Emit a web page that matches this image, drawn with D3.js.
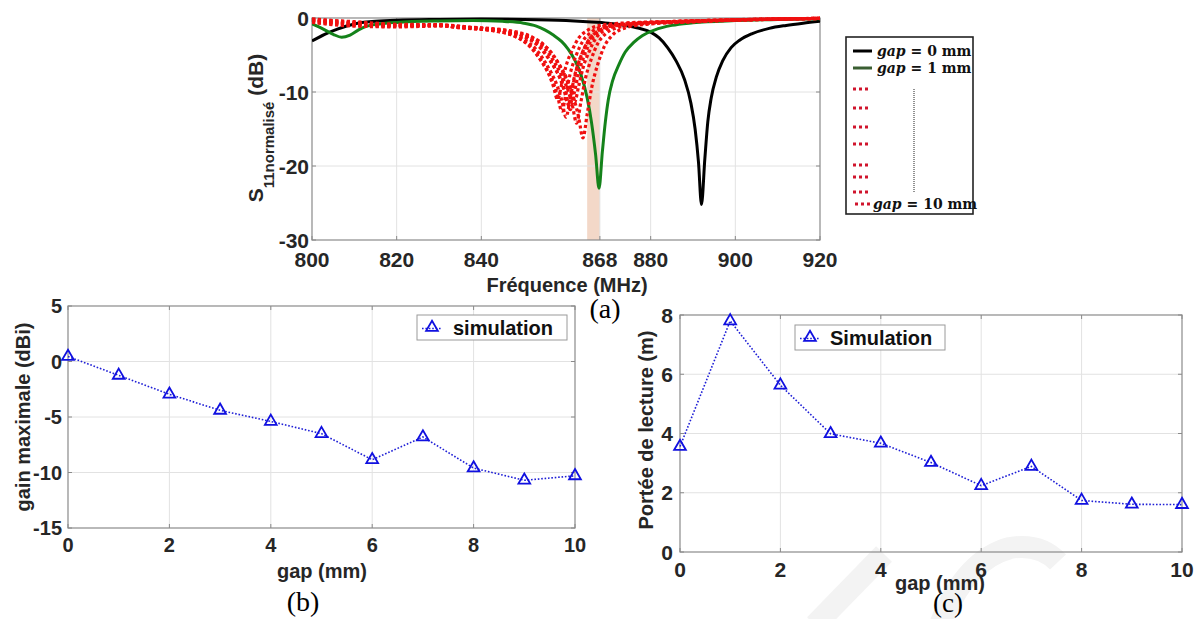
<!DOCTYPE html>
<html><head><meta charset="utf-8">
<script src="https://cdn.jsdelivr.net/npm/d3@7"></script>
<style>
body{margin:0;background:#fff;}
svg{display:block;}
text{font-family:Arial,"Liberation Sans",sans-serif;}
</style></head><body>
<svg id="fig" width="1197" height="619"></svg>
<script>
// ---------- (a) S11 data ----------
const freqTicks = [800, 820, 840, 868, 880, 900, 920];
const s11Ticks = [0, -10, -20, -30];
const bandMHz = [865, 868];
const s11Gap0 = [[800,-3.1],[803,-2.2],[806,-1.5],[810,-0.8],[815,-0.45],[820,-0.3],[830,-0.2],[840,-0.15],[850,-0.2],[860,-0.35],[865,-0.5],[870,-0.7],[874,-1.0],[877,-1.35],[880,-1.9],[882,-2.7],[884,-4.0],[886,-5.8],[888,-8.3],[889.5,-11.5],[890.5,-15],[891.3,-19.5],[892,-25.2],[892.8,-19],[893.5,-14],[894.3,-10.8],[895.5,-8],[897,-5.8],[899,-4.0],[901,-3.0],[904,-2.1],[908,-1.4],[912,-1.0],[916,-0.7],[920,-0.45]];
const s11Gap1 = [[800,-0.8],[802,-1.3],[805,-2.2],[807,-2.6],[809,-2.3],[811,-1.6],[813,-1.1],[816,-0.8],[820,-0.6],[830,-0.4],[838,-0.35],[845,-0.45],[850,-0.7],[853,-1.1],[855,-1.6],[857,-2.3],[859,-3.2],[860.5,-4.2],[862,-5.6],[863.5,-7.6],[865,-10.8],[866,-14],[867,-18.5],[867.8,-23],[868.6,-18],[869.3,-14],[870,-11],[871,-8.5],[872.5,-6.3],[874,-4.6],[876,-3.3],[878,-2.4],[881,-1.6],[885,-1.0],[890,-0.65],[900,-0.35],[910,-0.2],[920,-0.1]];
const s11Gap3 = [[800,-0.3],[810,-0.8],[820,-1.0],[830,-0.95],[833,-1.2],[843,-1.7],[848,-2.5],[851,-3.6],[853,-4.9],[854.5,-6.15],[856,-7.7],[857,-9.2],[858,-11.0],[859,-8.9],[860,-6.5],[861.5,-4.3],[863,-2.7],[865,-1.7],[868,-1.0],[873,-0.7],[883,-0.5],[900,-0.25],[910,-0.15],[920,-0.05]];
const s11Gap4 = [[800,-0.2],[810,-0.7],[820,-0.95],[830,-0.95],[834,-1.25],[844,-1.84],[849,-2.77],[852,-4.06],[854,-5.58],[855.5,-6.98],[857,-8.74],[858,-10.5],[859,-12.6],[860,-10.2],[861,-7.5],[862.5,-4.9],[864,-3.1],[866,-1.9],[869,-1.1],[874,-0.8],[884,-0.5],[900,-0.25],[910,-0.12],[920,-0.05]];
const s11Gap5 = [[800,-0.4],[810,-0.9],[820,-1.1],[830,-1.0],[835,-1.28],[845,-1.9],[850,-2.9],[853,-4.28],[855,-5.9],[856.5,-7.4],[858,-9.28],[859,-11.15],[860,-13.4],[861,-10.8],[862,-7.9],[863.5,-5.2],[865,-3.3],[867,-2.0],[870,-1.2],[875,-0.8],[885,-0.5],[900,-0.28],[910,-0.15],[920,-0.06]];
const s11Gap6 = [[800,-0.1],[810,-0.6],[820,-0.9],[830,-0.95],[835.5,-1.22],[845.5,-1.76],[850.5,-2.61],[853.5,-3.79],[855.5,-5.18],[857,-6.46],[858.5,-8.07],[859.5,-9.67],[860.5,-11.6],[861.5,-9.4],[862.5,-6.9],[864,-4.5],[865.5,-2.9],[867.5,-1.75],[870.5,-1.1],[875.5,-0.75],[885.5,-0.5],[900,-0.22],[910,-0.12],[920,-0.04]];
const s11Gap7 = [[800,-0.5],[810,-1.0],[820,-1.1],[830,-1.0],[836,-1.25],[846,-1.82],[851,-2.74],[854,-4.0],[856,-5.5],[857.5,-6.88],[859,-8.6],[860,-10.33],[861,-12.4],[862,-10.0],[863,-7.4],[864.5,-4.8],[866,-3.0],[868,-1.85],[871,-1.1],[876,-0.75],[886,-0.5],[900,-0.3],[910,-0.16],[920,-0.07]];
const s11Gap8 = [[800,-0.2],[810,-0.5],[820,-0.85],[830,-0.9],[837,-1.22],[847,-1.74],[852,-2.58],[855,-3.74],[857,-5.1],[858.5,-6.36],[860,-7.94],[861,-9.51],[862,-11.4],[863,-9.2],[864,-6.8],[865.5,-4.5],[867,-2.8],[869,-1.7],[872,-1.05],[877,-0.75],[887,-0.5],[900,-0.24],[910,-0.13],[920,-0.05]];
const s11Gap9 = [[800,-0.3],[810,-0.75],[820,-1.0],[830,-1.0],[837.5,-1.3],[847.5,-1.96],[852.5,-3.03],[855.5,-4.49],[857.5,-6.22],[859,-7.82],[860.5,-9.81],[861.5,-11.8],[862.5,-14.2],[863.5,-11.4],[864.5,-8.4],[866,-5.5],[867.5,-3.45],[869.5,-2.05],[872.5,-1.25],[877.5,-0.8],[887.5,-0.55],[900,-0.26],[910,-0.14],[920,-0.05]];
const s11Gap10 = [[800,-0.6],[810,-1.1],[820,-1.2],[830,-1.1],[839,-1.36],[849,-2.12],[854,-3.35],[857,-5.03],[859,-7.02],[860.5,-8.86],[862,-11.15],[863,-13.45],[864,-16.2],[865,-13.0],[866,-9.6],[867.5,-6.25],[869,-3.9],[871,-2.3],[874,-1.35],[879,-0.85],[889,-0.55],[900,-0.3],[910,-0.17],[920,-0.07]];
const redCurves = [s11Gap3, s11Gap4, s11Gap5, s11Gap6, s11Gap7, s11Gap8, s11Gap9, s11Gap10];

// ---------- (b), (c) data ----------
const gapMm = [0,1,2,3,4,5,6,7,8,9,10];
const gainMax = [0.45,-1.25,-2.95,-4.4,-5.4,-6.5,-8.85,-6.8,-9.6,-10.7,-10.3];
const readRange = [3.56,7.8,5.63,3.99,3.67,3.02,2.24,2.89,1.74,1.61,1.6];
const gapTicks = [0,2,4,6,8,10];
const gainTicks = [5,0,-5,-10,-15];
const rangeTicks = [0,2,4,6,8];

const svg = d3.select("#fig");
const GRID = "#e2e2e2", FRAME = "#8a8a8a", TXT = "#262626";

// faint watermark strokes (background)
const wm = svg.append("g").attr("fill","none").attr("stroke","#f3f3f3").attr("stroke-width",22);
wm.append("path").attr("d","M815,625 L884,554");
wm.append("path").attr("d","M940,625 Q965,560 1010,548 Q1040,543 1058,562");

function frame(g, x, y, xt, yt, fs, opts){
  const [x0,x1] = x.range(), [y0,y1] = y.range();
  g.append("g").selectAll("line").data(xt.filter(v=>v!==x.domain()[0]&&v!==x.domain()[1])).join("line")
    .attr("x1",d=>x(d)).attr("x2",d=>x(d)).attr("y1",y1).attr("y2",y0).attr("stroke",GRID);
  g.append("g").selectAll("line").data(yt.filter(v=>v!==y.domain()[0]&&v!==y.domain()[1])).join("line")
    .attr("y1",d=>y(d)).attr("y2",d=>y(d)).attr("x1",x0).attr("x2",x1).attr("stroke",GRID);
  const tk = g.append("g").attr("stroke",FRAME);
  xt.forEach(v=>{tk.append("line").attr("x1",x(v)).attr("x2",x(v)).attr("y1",y0).attr("y2",y0-4);
                 tk.append("line").attr("x1",x(v)).attr("x2",x(v)).attr("y1",y1).attr("y2",y1+4);});
  yt.forEach(v=>{tk.append("line").attr("y1",y(v)).attr("y2",y(v)).attr("x1",x0).attr("x2",x0+4);
                 tk.append("line").attr("y1",y(v)).attr("y2",y(v)).attr("x1",x1).attr("x2",x1-4);});
  g.append("rect").attr("x",x0).attr("y",y1).attr("width",x1-x0).attr("height",y0-y1)
    .attr("fill","none").attr("stroke",FRAME).attr("stroke-width",1.2);
  g.append("g").selectAll("text").data(xt).join("text")
    .attr("x",d=>x(d)).attr("y",y0+opts.xdy).attr("text-anchor","middle")
    .attr("font-size",fs).attr("font-weight","bold").attr("fill",TXT).text(d=>d);
  g.append("g").selectAll("text").data(yt).join("text")
    .attr("x",x0-opts.ydx).attr("y",d=>y(d)).attr("dy","0.36em").attr("text-anchor","end")
    .attr("font-size",fs).attr("font-weight","bold").attr("fill",TXT).text(d=>d);
}

// ================= (a) =================
const xA = d3.scaleLinear().domain([800,920]).range([312,820]);
const yA = d3.scaleLinear().domain([-30,0]).range([240,18]);
const gA = svg.append("g");
gA.append("defs").append("clipPath").attr("id","clipA").append("rect")
  .attr("x",312).attr("y",14).attr("width",508).attr("height",228);
gA.append("rect").attr("x",xA(bandMHz[0])).attr("y",yA(0)).attr("width",xA(bandMHz[1])-xA(bandMHz[0]))
  .attr("height",yA(-30)-yA(0)).attr("fill","#f3d8c8");
frame(gA, xA, yA, freqTicks, s11Ticks, 21, {xdy:27, ydx:3});
const lineA = d3.line().x(d=>xA(d[0])).y(d=>yA(d[1])).curve(d3.curveMonotoneX);
const curves = gA.append("g").attr("clip-path","url(#clipA)");
curves.append("path").attr("d",lineA(s11Gap0)).attr("fill","none").attr("stroke","#000").attr("stroke-width",3);
curves.append("path").attr("d",lineA(s11Gap1)).attr("fill","none").attr("stroke","#14821a").attr("stroke-width",3);
redCurves.forEach(c=>{
  curves.append("path").attr("d",lineA(c)).attr("fill","none").attr("stroke","#f01010")
    .attr("stroke-width",3.2).attr("stroke-dasharray","3.2,2.6");
});
const yl = gA.append("text").attr("transform","translate(263,128) rotate(-90)")
  .attr("text-anchor","middle").attr("font-weight","bold").attr("fill",TXT);
yl.append("tspan").attr("font-size",21).text("S");
yl.append("tspan").attr("font-size",15).attr("dy",11).text("11normalisé");
yl.append("tspan").attr("font-size",21).attr("dy",-11).text("\u00a0(dB)");
gA.append("text").attr("x",567).attr("y",292).attr("text-anchor","middle").attr("font-size",20)
  .attr("font-weight","bold").attr("fill",TXT).text("Fréquence (MHz)");
svg.append("text").attr("x",605).attr("y",318).attr("text-anchor","middle")
  .style("font-family","'Liberation Serif','Times New Roman',serif").attr("font-size",28).attr("fill","#000").text("(a)");

// legend (a)
const lg = svg.append("g");
lg.append("rect").attr("x",846).attr("y",37).attr("width",127).attr("height",177)
  .attr("fill","#fff").attr("stroke","#222").attr("stroke-width",1.6);
function legText(x, y, val){
  const t = lg.append("text").attr("x",x).attr("y",y+5)
    .style("font-family","'DejaVu Serif',serif").attr("font-size",14).attr("font-weight","bold").attr("fill","#111");
  t.append("tspan").attr("font-style","italic").text("gap");
  t.append("tspan").text(" = " + val + " mm");
}
lg.append("line").attr("x1",853).attr("x2",872).attr("y1",51).attr("y2",51).attr("stroke","#000").attr("stroke-width",3);
legText(877, 51, 0);
lg.append("line").attr("x1",853).attr("x2",872).attr("y1",68).attr("y2",68).attr("stroke","#3a5e32").attr("stroke-width",3);
legText(877, 68, 1);
const redRows = [89,108,127,144,165,177,192,204];
redRows.forEach((ry,i)=>{
  lg.append("line").attr("x1",i===redRows.length-1?855:853).attr("x2",i===redRows.length-1?873:871)
    .attr("y1",ry).attr("y2",ry).attr("stroke","#d0142c").attr("stroke-width",3).attr("stroke-dasharray","3,3");
});
lg.append("line").attr("x1",914).attr("x2",914).attr("y1",89).attr("y2",192).attr("stroke","#222")
  .attr("stroke-width",1).attr("stroke-dasharray","1,1");
legText(873, 204, 10);

// ================= (b) & (c) =================
function gapPlot(xr, yr, ydom, yt, vals, fs, legend, labels){
  const x = d3.scaleLinear().domain([0,10]).range(xr);
  const y = d3.scaleLinear().domain(ydom).range(yr);
  const g = svg.append("g");
  frame(g, x, y, gapTicks, yt, fs, labels.off);
  const pts = gapMm.map((m,i)=>[m, vals[i]]);
  g.append("path").attr("d", d3.line().x(d=>x(d[0])).y(d=>y(d[1]))(pts))
    .attr("fill","none").attr("stroke","#1f1fd6").attr("stroke-width",1.6).attr("stroke-dasharray","1.6,1.8");
  const tri = d3.symbol().type(d3.symbolTriangle).size(60);
  g.append("g").selectAll("path").data(pts).join("path").attr("d",tri)
    .attr("transform",d=>`translate(${x(d[0])},${y(d[1])})`)
    .attr("fill","none").attr("stroke","#1010e0").attr("stroke-width",1.8);
  const L = legend;
  g.append("rect").attr("x",L.x).attr("y",L.y).attr("width",L.w).attr("height",L.h)
    .attr("fill","#fff").attr("stroke","#9a9a9a").attr("stroke-width",1);
  g.append("line").attr("x1",L.x+5).attr("x2",L.x+25).attr("y1",L.y+L.h/2+1).attr("y2",L.y+L.h/2+1)
    .attr("stroke","#1f1fd6").attr("stroke-width",1.6).attr("stroke-dasharray","1.6,1.8");
  g.append("path").attr("d",tri).attr("transform",`translate(${L.x+15},${L.y+L.h/2})`)
    .attr("fill","none").attr("stroke","#1010e0").attr("stroke-width",1.8);
  g.append("text").attr("x",L.x+L.tx).attr("y",L.y+L.h/2).attr("dy","0.36em").attr("font-size",L.fs)
    .attr("font-weight","bold").attr("fill","#111").text(L.text);
  g.append("text").attr("transform",`translate(${labels.yx},${labels.yy}) rotate(-90)`).attr("text-anchor","middle")
    .attr("font-size",labels.fs).attr("font-weight","bold").attr("fill",TXT).text(labels.ylab);
  g.append("text").attr("x",labels.xx).attr("y",labels.xy).attr("text-anchor","middle")
    .attr("font-size",labels.fs).attr("font-weight","bold").attr("fill",TXT).text("gap (mm)");
  svg.append("text").attr("x",labels.px).attr("y",labels.py).attr("text-anchor","middle")
    .style("font-family","'Liberation Serif','Times New Roman',serif").attr("font-size",labels.pfs).attr("fill","#000").text(labels.panel);
}

gapPlot([68,575],[528,306],[-15,5],gainTicks,gainMax,20,
  {x:417,y:315,w:150,h:25,tx:36,fs:20,text:"simulation"},
  {off:{xdy:24,ydx:6}, yx:30, yy:417, ylab:"gain maximale (dBi)", xx:322, xy:578, fs:20, px:303, py:611, pfs:28, panel:"(b)"});

gapPlot([680,1182],[552,315],[0,8],rangeTicks,readRange,21,
  {x:795,y:325,w:150,h:25,tx:35,fs:20,text:"Simulation"},
  {off:{xdy:25,ydx:7}, yx:653, yy:430, ylab:"Portée de lecture (m)", xx:940, xy:590, fs:20, px:948, py:612, pfs:27, panel:"(c)"});
</script>
</body></html>
